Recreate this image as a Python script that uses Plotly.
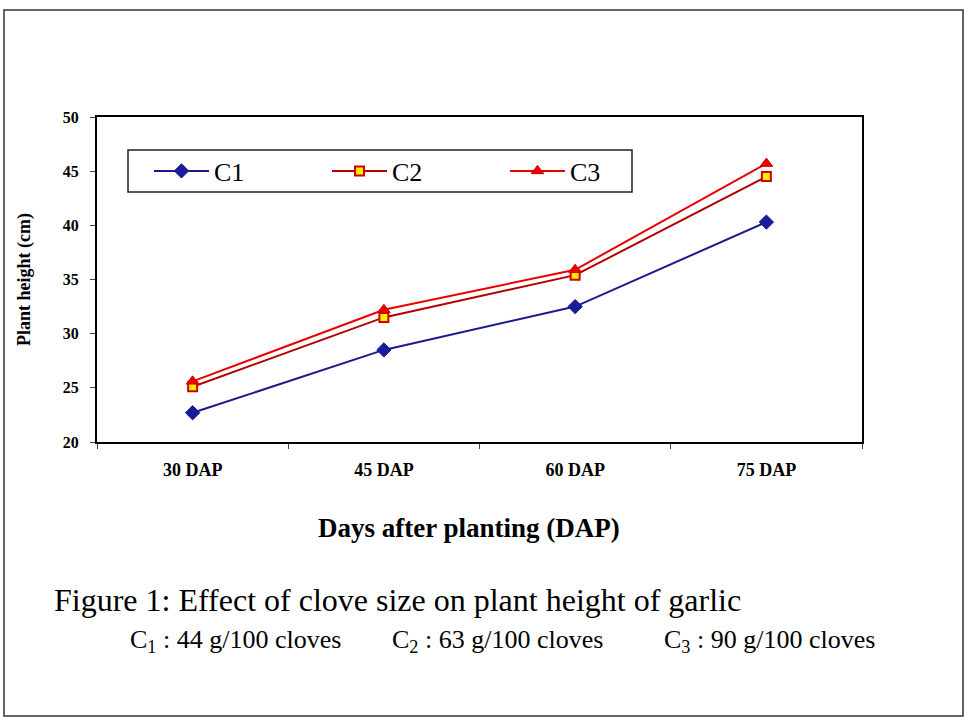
import plotly.graph_objects as go

categories = ["30 DAP", "45 DAP", "60 DAP", "75 DAP"]
c1 = [22.7, 28.5, 32.5, 40.3]
c2 = [25.1, 31.5, 35.4, 44.5]
c3 = [25.6, 32.2, 35.9, 45.7]
y_ticks = [20, 25, 30, 35, 40, 45, 50]

FONT = "Liberation Serif, Times New Roman, serif"

fig = go.Figure()
fig.add_trace(go.Scatter(x=categories, y=c1, name="C1", mode="lines+markers",
                         line=dict(color="#1a1a8c", width=2),
                         marker=dict(symbol="diamond", size=11, color="#1a1a9c",
                                     line=dict(color="#1a1a8c", width=1))))
fig.add_trace(go.Scatter(x=categories, y=c2, name="C2", mode="lines+markers",
                         line=dict(color="#b00000", width=2),
                         marker=dict(symbol="square", size=9, color="#ffee00",
                                     line=dict(color="#d00000", width=2))))
fig.add_trace(go.Scatter(x=categories, y=c3, name="C3", mode="lines+markers",
                         line=dict(color="#e80000", width=2),
                         marker=dict(symbol="triangle-up", size=11, color="#ee0000",
                                     line=dict(color="#cc0000", width=1))))

L, R, T, B = 97, 862, 117, 442
W, H = 969, 723
pw, ph = R - L, B - T

def px(xp):
    return (xp - L) / pw

def py(yp):
    return (B - yp) / ph

fig.update_layout(
    width=W, height=H,
    margin=dict(l=L, r=W - R, t=T, b=H - B, pad=0),
    paper_bgcolor="white", plot_bgcolor="white",
    font=dict(family=FONT, color="black"),
    showlegend=True,
    legend=dict(orientation="h", x=px(149), y=py(171), xanchor="left", yanchor="middle",
                borderwidth=0, bgcolor="rgba(0,0,0,0)",
                font=dict(size=26, family=FONT),
                entrywidth=108, entrywidthmode="pixels", itemwidth=55,
                tracegroupgap=0),
    xaxis=dict(type="category", range=[-0.5, 3.5], showline=True, linecolor="black",
               linewidth=2, mirror=True, ticks="outside", tickson="boundaries",
               ticklen=5, tickcolor="#444", showgrid=False,
               tickfont=dict(size=18, family=FONT, weight="bold"), ticklabelstandoff=10),
    yaxis=dict(range=[20, 50], tickvals=y_ticks, showline=True, linecolor="black",
               linewidth=2, mirror=True, ticks="outside", ticklen=5, tickcolor="#444",
               showgrid=False, zeroline=False, ticklabelstandoff=8,
               tickfont=dict(size=16, family=FONT, weight="bold"),
               title=dict(text="Plant height (cm)",
                          font=dict(size=18, family=FONT, weight="bold"),
                          standoff=27)),
)

# legend frame
fig.add_shape(type="rect", xref="paper", yref="paper", x0=px(128), x1=px(632),
              y0=py(192), y1=py(150), line=dict(color="#222", width=1.5),
              fillcolor="white", layer="below")

fig.add_annotation(text="Days after planting (DAP)", x=px(469), y=py(528), xref="paper",
                   yref="paper", showarrow=False, xanchor="center", yanchor="middle",
                   font=dict(size=27, family=FONT, weight="bold"))
fig.add_annotation(text="Figure 1: Effect of clove size on plant height of garlic",
                   x=px(52), y=py(600), xref="paper", yref="paper", showarrow=False,
                   xanchor="left", yanchor="middle", font=dict(size=32, family=FONT))
subs = [("C<sub>1</sub> : 44 g/100 cloves", 128), ("C<sub>2</sub> : 63 g/100 cloves", 390),
        ("C<sub>3</sub> : 90 g/100 cloves", 662)]
for txt, xp in subs:
    fig.add_annotation(text=txt, x=px(xp), y=py(641), xref="paper", yref="paper",
                       showarrow=False, xanchor="left", yanchor="middle",
                       font=dict(size=26, family=FONT))

fig.add_shape(type="rect", xref="paper", yref="paper", x0=px(4), x1=px(963),
              y0=py(716), y1=py(10), line=dict(color="#333", width=1.5),
              fillcolor="rgba(0,0,0,0)", layer="below")

fig.write_html("out.html")
